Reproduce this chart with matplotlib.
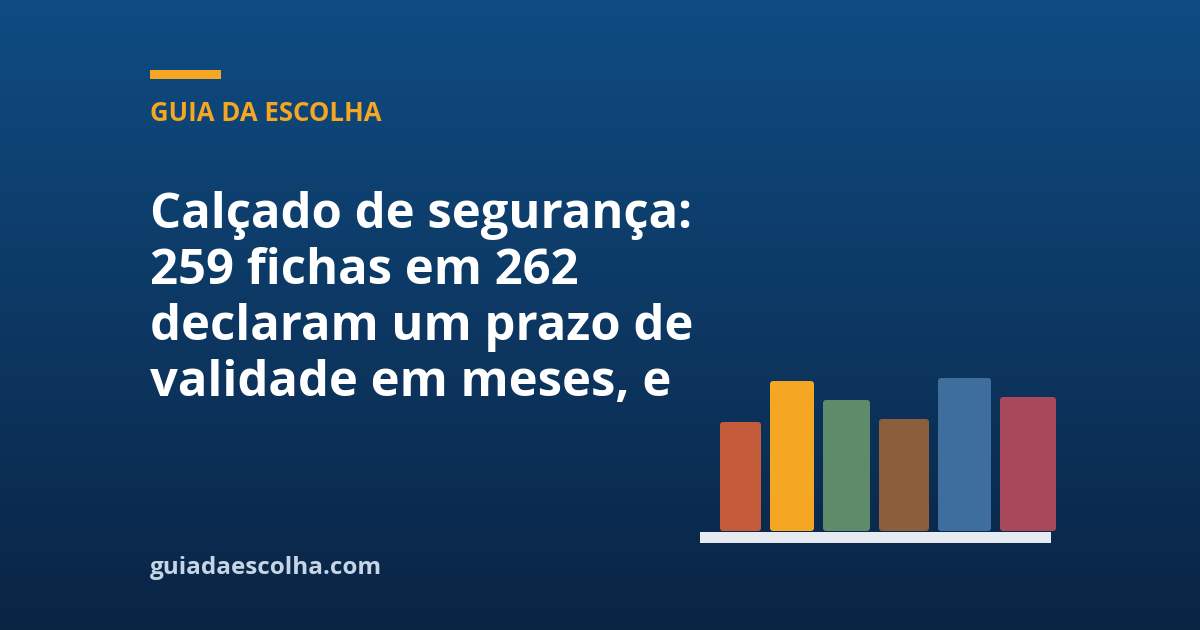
import numpy as np
import matplotlib.pyplot as plt
from matplotlib.patches import FancyBboxPatch
from matplotlib.colors import LinearSegmentedColormap

# Card text
kicker = "GUIA DA ESCOLHA"
title_lines = [
    "Calçado de segurança:",
    "259 fichas em 262",
    "declaram um prazo de",
    "validade em meses, e",
]
site = "guiadaescolha.com"

# Decorative bar chart values
bar_values = [109, 150, 131, 112, 153, 134]
bar_colors = ["#C45C3C", "#F5A623", "#5E8B6A", "#8B5E3C", "#3E6E9E", "#A8485A"]

W, H = 1200, 630
fig = plt.figure(figsize=(W / 100, H / 100), dpi=100)

# Background gradient
bg = fig.add_axes([0, 0, 1, 1])
cmap = LinearSegmentedColormap.from_list("bg", ["#0F4C82", "#0A2444"])
grad = np.linspace(0, 1, 256).reshape(-1, 1)
bg.imshow(grad, cmap=cmap, aspect="auto", extent=[0, W, H, 0])
bg.set_xlim(0, W)
bg.set_ylim(H, 0)
bg.axis("off")

font = "Open Sans"

# Accent line and kicker
bg.add_patch(plt.Rectangle((150, 70), 71, 9, color="#F5A623", lw=0))
bg.text(150, 121, kicker, color="#F5A623", fontsize=18.5, fontweight="bold",
        family=font, va="baseline", ha="left")

# Title
for i, line in enumerate(title_lines):
    bg.text(150, 228 + i * 56, line, color="white", fontsize=35.3, fontweight="bold",
            family=font, va="baseline", ha="left")

# Site
bg.text(150, 574, site, color="#C5D5E6", fontsize=17.5, fontweight="bold",
        family=font, va="baseline", ha="left")

# Bar chart, axes in pixel-like units
ax = fig.add_axes([700 / W, (H - 543) / H, 351 / W, 173 / H])
ax.set_xlim(0, 351)
ax.set_ylim(-12, 161)
ax.axis("off")

widths = [41 + 3 * i for i in range(len(bar_values))]
lefts = [20]
for w in widths[:-1]:
    lefts.append(lefts[-1] + w + 9)

bars = ax.bar(lefts, bar_values, width=widths, align="edge", color=bar_colors)
for b in bars:
    x, y = b.get_x(), b.get_y()
    w, h = b.get_width(), b.get_height()
    b.set_visible(False)
    ax.add_patch(FancyBboxPatch((x, y), w, h,
                                boxstyle="round,pad=0,rounding_size=3",
                                fc=b.get_facecolor(), ec="none", clip_on=False))

# Baseline
ax.add_patch(plt.Rectangle((0, -12), 351, 11, color="#E6EBF2", lw=0))

fig.savefig("out.png", dpi=100)
